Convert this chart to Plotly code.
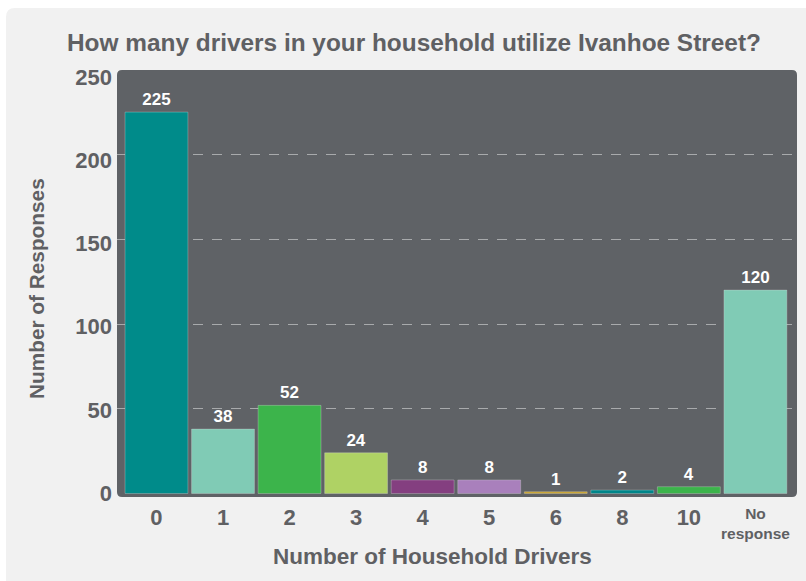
import plotly.graph_objects as go

# data
categories = ["0", "1", "2", "3", "4", "5", "6", "8", "10", "No response"]
responses = [225, 38, 52, 24, 8, 8, 1, 2, 4, 120]
bar_colors = ["#008b8a", "#80cbb5", "#3cb44b", "#afd264", "#843f80",
              "#a980bc", "#c9a227", "#00868a", "#3cb44b", "#80cbb5"]
tick_labels = ["0", "1", "2", "3", "4", "5", "6", "8", "10", ""]
y_ticks = [0, 50, 100, 150, 200, 250]
grid_ticks = [50, 100, 150, 200]

W, H = 806, 581
L, R, T, B = 117, 798, 66, 497   # plot area in pixels

def px(x):
    return (x - L) / (R - L)

def py(y):
    return (B - y) / (B - T)

def rounded(x0, y0, x1, y1, r):
    # rounded rectangle path in paper coords, pixel inputs
    rx = r / (R - L)
    ry = r / (B - T)
    a, b, c, d = px(x0), py(y1), px(x1), py(y0)  # left, bottom, right, top
    return (f"M {a+rx},{b} L {c-rx},{b} Q {c},{b} {c},{b+ry} "
            f"L {c},{d-ry} Q {c},{d} {c-rx},{d} L {a+rx},{d} "
            f"Q {a},{d} {a},{d-ry} L {a},{b+ry} Q {a},{b} {a+rx},{b} Z")

text_col = "#5f6063"
font = "Liberation Sans, Arial, sans-serif"

fig = go.Figure()
# invisible trace on the label axis so its tick labels get drawn
fig.add_trace(go.Scatter(x=[categories[0]], y=[0], yaxis="y2", mode="markers",
                         marker=dict(opacity=0), showlegend=False, hoverinfo="skip"))
fig.add_trace(go.Bar(
    x=categories, y=responses,
    marker=dict(color=bar_colors, line=dict(color="rgba(220,220,220,0.4)", width=0.8)),
    text=responses, textposition="outside",
    textfont=dict(color="white", size=17, family=font, weight="bold"),
    cliponaxis=False, showlegend=False,
))

fig.update_layout(
    width=W, height=H,
    margin=dict(l=L, r=W - R, t=T, b=H - B, pad=0),
    paper_bgcolor="white",
    plot_bgcolor="rgba(0,0,0,0)",
    bargap=0.055,
    font=dict(family=font, color=text_col),
    title=dict(text="<b>How many drivers in your household utilize Ivanhoe Street?</b>",
               x=67 / W, xanchor="left", y=1 - 42 / H, yanchor="middle",
               font=dict(size=24.4, color=text_col)),
    xaxis=dict(range=[-0.593, 9.64], tickvals=categories, ticktext=tick_labels,
               showgrid=False, zeroline=False, showline=False, ticks="",
               ticklabelstandoff=5,
               tickfont=dict(size=22, weight="bold", color=text_col)),
    # bars + dashed grid
    yaxis=dict(range=[-2.06, 252.2], tickvals=grid_ticks, showticklabels=False,
               showgrid=True, gridcolor="#a8aaac", griddash="10px,9px",
               gridwidth=1, zeroline=False, showline=False, ticks=""),
    # tick labels (spaced a little tighter than the grid, as in the original)
    yaxis2=dict(range=[-2.4, 256.6], tickvals=y_ticks, overlaying="y", side="left",
                showgrid=False, zeroline=False, showline=False, ticks="",
                tickfont=dict(size=22, weight="bold", color=text_col),
                ticklabelstandoff=4),
    shapes=[
        dict(type="path", xref="paper", yref="paper", layer="below",
             path=rounded(6, 8, 830, 600, 9), fillcolor="#f1f1f1", line=dict(width=0)),
        dict(type="path", xref="paper", yref="paper", layer="below",
             path=rounded(L, 70, 797, B, 5), fillcolor="#5f6266", line=dict(width=0)),
    ],
    annotations=[
        dict(x=categories[-1], xref="x", y=py(523), yref="paper",
             text="<b>No<br>response</b>", showarrow=False,
             font=dict(size=15.5, color=text_col), yanchor="middle"),
        dict(x=px(432), xref="paper", y=py(556), yref="paper",
             text="<b>Number of Household Drivers</b>", showarrow=False,
             font=dict(size=22.5, color=text_col), yanchor="middle"),
        dict(x=px(36), xref="paper", y=py(289), yref="paper", textangle=-90,
             text="<b>Number of Responses</b>", showarrow=False,
             font=dict(size=20.8, color=text_col), xanchor="center", yanchor="middle"),
    ],
)

fig.write_html("out.html", config={"displayModeBar": False},
               post_script="document.body.style.margin='0';")
